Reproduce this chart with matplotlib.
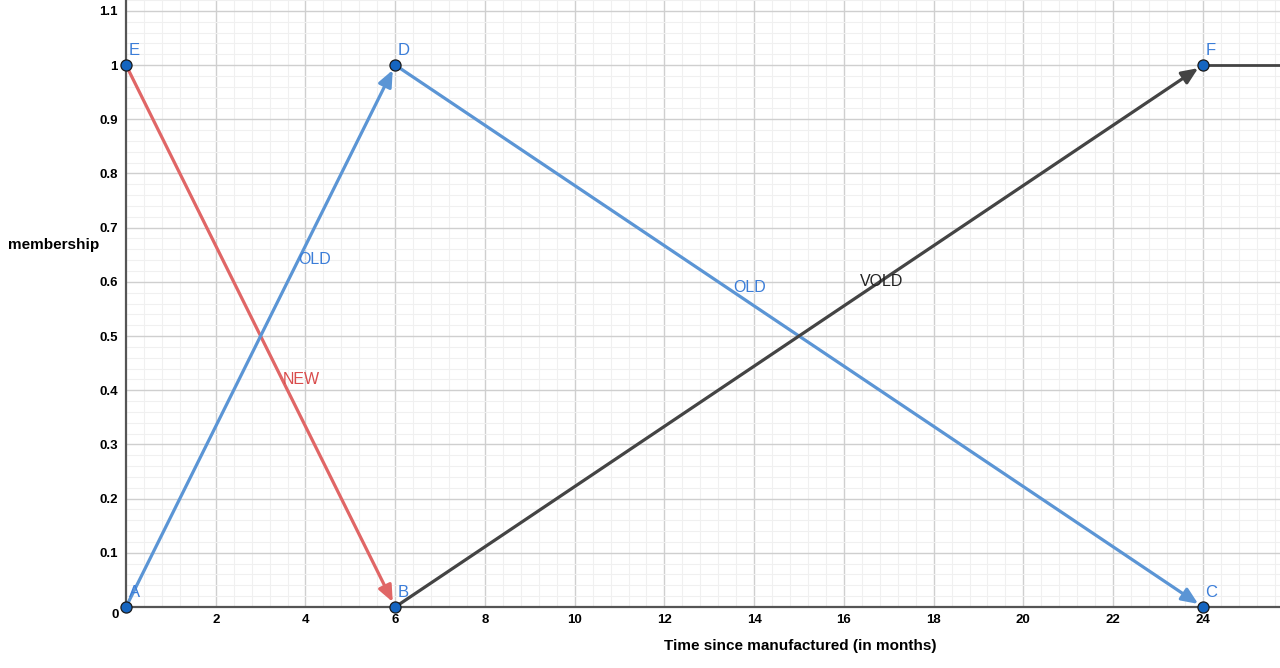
import numpy as np
import matplotlib
matplotlib.use('Agg')
import matplotlib.pyplot as plt

plt.rcParams['font.family'] = ['Liberation Sans', 'DejaVu Sans']

# Punkte (Monate, Zugehörigkeit)
punkt_namen = ['A', 'B', 'C', 'D', 'E', 'F']
punkt_x = [0, 6, 24, 6, 0, 24]
punkt_y = [0, 0, 0, 1, 1, 1]

# Strecken: (Start, Ende, Farbe)
strecken = [('E', 'B', '#e06666'),
            ('A', 'D', '#5b95d5'),
            ('D', 'C', '#5b95d5'),
            ('B', 'F', '#444444')]

# Beschriftungen der Strecken
label_text = ['OLD', 'NEW', 'OLD', 'VOLD']
label_x = [3.83, 3.5, 13.53, 16.36]
label_y = [0.641, 0.42, 0.589, 0.600]
label_farbe = ['#3b7dd8', '#d94c4c', '#3b7dd8', '#222222']

x_ticks = list(range(2, 26, 2))
y_ticks = [0.1, 0.2, 0.3, 0.4, 0.5, 0.6, 0.7, 0.8, 0.9, 1.0, 1.1]
y_tick_labels = ['0.1', '0.2', '0.3', '0.4', '0.5', '0.6', '0.7', '0.8', '0.9', '1', '1.1']

fig = plt.figure(figsize=(12.8, 6.68), dpi=100)
ax = fig.add_axes([126 / 1280, 61 / 668, 1154 / 1280, 607 / 668])
ax.set_xlim(0, 25.72)
ax.set_ylim(0, 1.118)

# Gitter
ax.set_xticks(x_ticks)
ax.set_yticks(y_ticks)
ax.set_yticklabels(y_tick_labels)
ax.set_xticks(np.arange(0, 25.8, 0.4), minor=True)
ax.set_yticks(np.arange(0, 1.12, 0.02), minor=True)
ax.grid(which='major', color='#cfcfcf', lw=1.0)
ax.grid(which='minor', color='#f0f0f0', lw=0.8)
ax.set_axisbelow(True)
ax.tick_params(which='both', length=0)
ax.tick_params(axis='x', pad=5, labelsize=9.5)
ax.tick_params(axis='y', pad=6, labelsize=9.5)
for lab in ax.get_xticklabels() + ax.get_yticklabels():
    lab.set_fontweight('bold')
ax.text(-0.25, -0.004, '0', ha='center', va='top', fontsize=9.5, fontweight='bold',
        transform=ax.transData, clip_on=False)

for s in ['top', 'right']:
    ax.spines[s].set_visible(False)
for s in ['left', 'bottom']:
    ax.spines[s].set_color('#555555')
    ax.spines[s].set_linewidth(1.6)

pos = {n: (x, y) for n, x, y in zip(punkt_namen, punkt_x, punkt_y)}

# Strecken mit Pfeilspitzen
for start, ende, farbe in strecken:
    ax.annotate('', xy=pos[ende], xytext=pos[start],
                arrowprops=dict(arrowstyle='-|>,head_length=0.7,head_width=0.3',
                                color=farbe, lw=2.3,
                                mutation_scale=14, shrinkA=0, shrinkB=4),
                annotation_clip=False)

# Strahl ab F
ax.plot([24, 26], [1, 1], color='#444444', lw=2.0, clip_on=True)

# Punkte
ax.plot(punkt_x, punkt_y, 'o', ms=8, mfc='#1565c0', mec='#1a1a1a', mew=0.9,
        clip_on=False, zorder=5)
for n, x, y in zip(punkt_namen, punkt_x, punkt_y):
    ax.text(x + 0.06, y + 0.013, n, color='#3b7dd8', fontsize=12,
            ha='left', va='bottom', clip_on=False)

for t, x, y, c in zip(label_text, label_x, label_y, label_farbe):
    ax.text(x, y, t, color=c, fontsize=11.5, ha='left', va='center')

fig.text(8 / 1280, 1 - 245 / 668, 'membership', fontsize=11, fontweight='bold',
         ha='left', va='center')
fig.text(800 / 1280, 1 - 646 / 668, 'Time since manufactured (in months)', fontsize=11,
         fontweight='bold', ha='center', va='center')

fig.savefig('out.png', dpi=100)
